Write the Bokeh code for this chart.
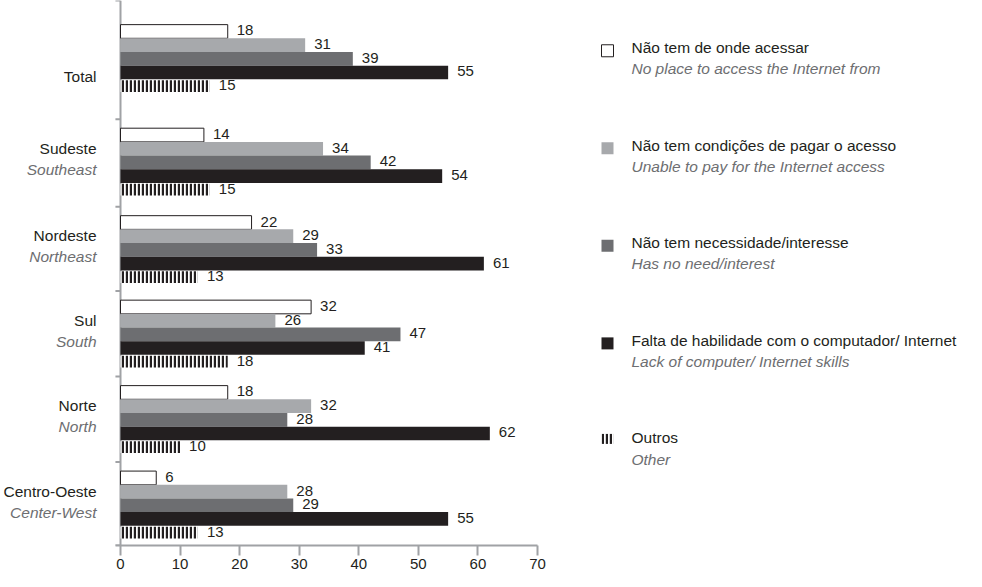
from bokeh.plotting import figure
from bokeh.models import Range1d, FixedTicker, ColumnDataSource
from bokeh.core.properties import value
from bokeh.embed import file_html
from bokeh.resources import INLINE

# ---------------- data ----------------
regions_pt = ["Total", "Sudeste", "Nordeste", "Sul", "Norte", "Centro-Oeste"]
regions_en = ["", "Southeast", "Northeast", "South", "North", "Center-West"]

series_pt = ["Não tem de onde acessar",
             "Não tem condições de pagar o acesso",
             "Não tem necessidade/interesse",
             "Falta de habilidade com o computador/ Internet",
             "Outros"]
series_en = ["No place to access the Internet from",
             "Unable to pay for the Internet access",
             "Has no need/interest",
             "Lack of computer/ Internet skills",
             "Other"]

nao_tem_onde = [18, 14, 22, 32, 18, 6]
nao_pode_pagar = [31, 34, 29, 26, 32, 28]
sem_interesse = [39, 42, 33, 47, 28, 29]
falta_habilidade = [55, 54, 61, 41, 62, 55]
outros = [15, 15, 13, 18, 10, 13]

x_ticks = [0, 10, 20, 30, 40, 50, 60, 70]

series_values = [nao_tem_onde, nao_pode_pagar, sem_interesse, falta_habilidade, outros]

# ---------------- styles / layout ----------------
FONT = "Liberation Sans"
TXT = "#231f20"
GREY_TXT = "#6d6e71"
AXIS = "#a0a2a5"
fills = ["#ffffff", "#a7a9ac", "#6d6e71", "#231f20", "#ffffff"]
lines = ["#231f20", None, None, None, None]

W, H = 966, 571
px_per_unit = 5.957          # horizontal scale (pixels per percentage point)
x_start = -120 / px_per_unit
x_end = x_start + W / px_per_unit

slot_heights = [118, 87, 84, 85, 85, 83]
slot_top0 = 8
block_offsets = [24, 9, 9, 9, 9, 9]
bh = 13.6

slot_tops = [slot_top0]
for h in slot_heights:
    slot_tops.append(slot_tops[-1] + h)
bottom = slot_tops[-1]

p = figure(width=W, height=H, output_backend="svg", toolbar_location=None,
           x_range=Range1d(x_start, x_end), y_range=Range1d(bottom, slot_top0),
           min_border=0, min_border_left=0, min_border_right=0,
           min_border_top=0, min_border_bottom=0)
p.outline_line_color = None
p.grid.visible = False
p.yaxis.visible = False
p.background_fill_color = "white"

xa = p.xaxis[0]
xa.ticker = FixedTicker(ticks=x_ticks)
xa.bounds = (-0.85, 70)
xa.axis_line_color = AXIS
xa.axis_line_width = 2
xa.major_tick_line_color = AXIS
xa.major_tick_line_width = 2
xa.major_tick_in = 0
xa.major_tick_out = 10
xa.minor_tick_line_color = None
xa.major_label_standoff = 3
xa.major_label_text_font = FONT
xa.major_label_text_font_size = "15px"
xa.major_label_text_color = TXT

# y axis line and group separator ticks (drawn in data space)
p.segment(x0=[0], y0=[slot_top0], x1=[0], y1=[bottom], line_color=AXIS, line_width=2)
p.segment(x0=[-0.85] * len(slot_tops), y0=slot_tops, x1=[0] * len(slot_tops),
          y1=slot_tops, line_color=AXIS, line_width=2)

# bars
for k, vals in enumerate(series_values):
    ys = [slot_tops[i] + block_offsets[i] + (k + 0.5) * bh for i in range(len(vals))]
    src = ColumnDataSource(dict(y=ys, right=vals, lab=[str(v) for v in vals]))
    kw = dict(y="y", left=0, right="right", height=bh * (0.86 if k == 4 else 1.0),
              source=src, fill_color=fills[k])
    if lines[k]:
        kw.update(line_color=lines[k], line_width=1)
    else:
        kw.update(line_color=None)
    if k == 4:
        kw.update(hatch_pattern="vertical_line", hatch_color="#231f20",
                  hatch_weight=2.4, hatch_scale=4)
    p.hbar(**kw)
    p.text(x="right", y="y", text="lab", source=src, x_offset=9, y_offset=-1,
           text_baseline="middle", text_align="left", text_font=value(FONT),
           text_font_size="15px", text_color=TXT)

# category labels
cat_y_pt, cat_y_en = [], []
for i in range(len(regions_pt)):
    if regions_en[i]:
        cat_y_pt.append(slot_tops[i] + 29)
        cat_y_en.append(slot_tops[i] + 50)
    else:
        cat_y_pt.append(slot_tops[i] + block_offsets[i] + 3.5 * bh + 4)
        cat_y_en.append(slot_tops[i] + 50)
p.text(x=[0] * len(regions_pt), y=cat_y_pt, text=regions_pt, x_offset=-24,
       text_align="right", text_baseline="middle", text_font=value(FONT),
       text_font_size="15.5px", text_color=TXT)
p.text(x=[0] * len(regions_en), y=cat_y_en, text=regions_en, x_offset=-24,
       text_align="right", text_baseline="middle", text_font=value(FONT),
       text_font_size="15.5px", text_color=GREY_TXT, text_font_style="italic")

# legend
leg_x_marker = (615 - 128) / px_per_unit
leg_x_text = (639 - 128) / px_per_unit
leg_y0, leg_dy = 55, 97
leg_pt_y = [leg_y0 + j * leg_dy for j in range(5)]
for j in range(5):
    y = leg_pt_y[j]
    kw = dict(x=[leg_x_marker], y=[y + 3], width=12, height=12 if j < 4 else 10,
              width_units="screen", height_units="screen", fill_color=fills[j])
    if j == 0:
        kw.update(line_color="#231f20", line_width=1)
    else:
        kw.update(line_color=None)
    if j == 4:
        kw.update(hatch_pattern="vertical_line", hatch_color="#231f20",
                  hatch_weight=2.4, hatch_scale=4, y=[y + 1])
    p.rect(**kw)
p.text(x=[leg_x_text] * 5, y=leg_pt_y, text=series_pt, text_align="left",
       text_baseline="middle", text_font=value(FONT), text_font_size="15.5px",
       text_color=TXT)
p.text(x=[leg_x_text] * 5, y=[v + 21 for v in leg_pt_y], text=series_en,
       text_align="left", text_baseline="middle", text_font=value(FONT),
       text_font_size="15.5px", text_color=GREY_TXT, text_font_style="italic")

open("out.html", "w").write(file_html(p, INLINE))
